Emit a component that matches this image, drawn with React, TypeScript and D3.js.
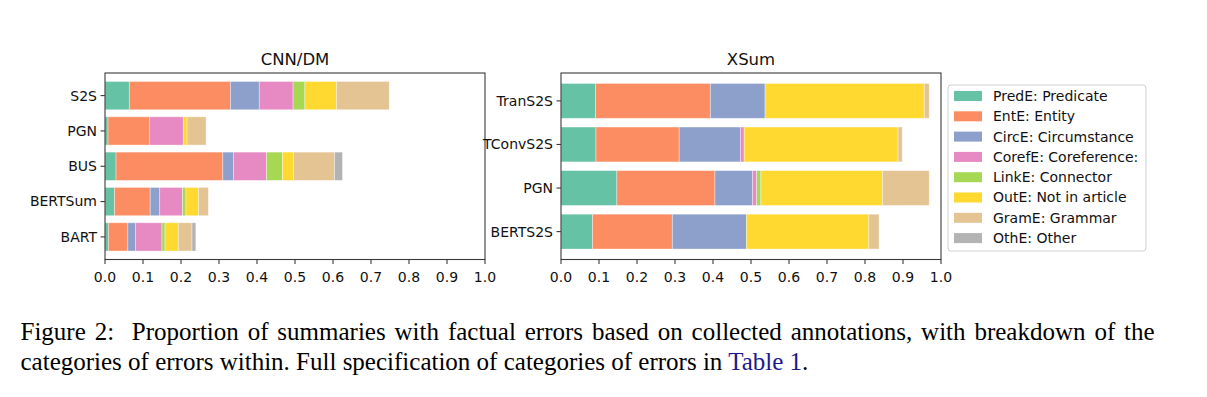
import React, { useEffect, useRef } from "react";
import * as d3 from "d3";

// error categories, in stacking order
const errorTypes = [
  "PredE: Predicate",
  "EntE: Entity",
  "CircE: Circumstance",
  "CorefE: Coreference:",
  "LinkE: Connector",
  "OutE: Not in article",
  "GramE: Grammar",
  "OthE: Other",
];
const errorColors = d3.schemeSet2;

const cnnModels = ["S2S", "PGN", "BUS", "BERTSum", "BART"];
// one row per model, one value per error type
const cnnShares = [
  [0.064, 0.266, 0.076, 0.089, 0.031, 0.083, 0.139, 0],
  [0.008, 0.109, 0, 0.089, 0, 0.01, 0.05, 0],
  [0.029, 0.281, 0.028, 0.087, 0.042, 0.029, 0.108, 0.021],
  [0.025, 0.094, 0.025, 0.06, 0.009, 0.033, 0.026, 0],
  [0.009, 0.051, 0.02, 0.07, 0.008, 0.035, 0.036, 0.01],
];

const xsumModels = ["TranS2S", "TConvS2S", "PGN", "BERTS2S"];
const xsumShares = [
  [0.091, 0.302, 0.144, 0, 0, 0.419, 0.013, 0],
  [0.092, 0.219, 0.161, 0.01, 0, 0.405, 0.011, 0],
  [0.147, 0.258, 0.099, 0.011, 0.011, 0.32, 0.123, 0],
  [0.083, 0.21, 0.195, 0, 0, 0.322, 0.027, 0],
];

const xTicks = [0, 0.1, 0.2, 0.3, 0.4, 0.5, 0.6, 0.7, 0.8, 0.9, 1.0];

const captionLine1 =
  "Figure 2:  Proportion of summaries with factual errors based on collected annotations, with breakdown of the";
const captionLine2 = "categories of errors within. Full specification of categories of errors in ";

const chartFont = "DejaVu Sans, sans-serif";
const axisColor = "#3a3a3a";
const tickSize = 14;

const Panel = ({ title, models, shares, left }) => {
  const top = 73;
  const bottom = 259.5;
  const width = 380;
  const x = d3.scaleLinear().domain([0, 1]).range([left, left + width]);
  const y = d3
    .scaleBand()
    .domain(models)
    .range([top, bottom])
    .paddingInner(0.2)
    .paddingOuter(0.24);
  const fmt = d3.format(".1f");

  return (
    <g fontFamily={chartFont}>
      {models.map((m, i) => {
        const ends = Array.from(d3.cumsum(shares[i]));
        return (
          <g key={m}>
            {shares[i].map((v, j) =>
              v > 0 ? (
                <rect
                  key={j}
                  x={x(ends[j] - v)}
                  y={y(m)}
                  width={x(ends[j]) - x(ends[j] - v)}
                  height={y.bandwidth()}
                  fill={errorColors[j]}
                  stroke="#fff"
                  strokeOpacity={0.45}
                  strokeWidth={0.8}
                />
              ) : null
            )}
          </g>
        );
      })}
      <rect
        x={left}
        y={top}
        width={width}
        height={bottom - top}
        fill="none"
        stroke={axisColor}
        strokeWidth={1.1}
      />
      {xTicks.map((t) => (
        <g key={t}>
          <line x1={x(t)} x2={x(t)} y1={bottom} y2={bottom + 4.5} stroke={axisColor} strokeWidth={1.1} />
          <text x={x(t)} y={bottom + 22} textAnchor="middle" fontSize={tickSize} fill="#111">
            {fmt(t)}
          </text>
        </g>
      ))}
      {models.map((m) => (
        <g key={m}>
          <line
            x1={left - 4.5}
            x2={left}
            y1={y(m) + y.bandwidth() / 2}
            y2={y(m) + y.bandwidth() / 2}
            stroke={axisColor}
            strokeWidth={1.1}
          />
          <text
            x={left - 8}
            y={y(m) + y.bandwidth() / 2}
            dy="0.35em"
            textAnchor="end"
            fontSize={tickSize}
            fill="#111"
          >
            {m}
          </text>
        </g>
      ))}
      <text x={left + width / 2} y={65} textAnchor="middle" fontSize={16.5} fill="#111">
        {title}
      </text>
    </g>
  );
};

const Legend = () => {
  const rowY = d3.scaleLinear().domain([0, 1]).range([96, 116.3]);
  return (
    <g fontFamily={chartFont}>
      <rect x={948} y={85} width={198} height={166} rx={3} fill="#fff" stroke="#d0d0d0" />
      {errorTypes.map((t, i) => (
        <g key={t}>
          <rect x={954} y={rowY(i) - 5} width={28} height={10} fill={errorColors[i]} />
          <text x={993} y={rowY(i)} dy="0.35em" fontSize={tickSize} fill="#111">
            {t}
          </text>
        </g>
      ))}
    </g>
  );
};

export default function App() {
  const line1Ref = useRef(null);

  useEffect(() => {
    // justify the first caption line like the LaTeX original
    const el = line1Ref.current;
    if (!el) return;
    el.setAttribute("word-spacing", "0");
    const natural = el.getComputedTextLength();
    const gaps = captionLine1.trim().split(/\s+/).length - 1;
    const target = 1152 - 20.5;
    el.setAttribute("word-spacing", String((target - natural) / gaps));
  }, []);

  return (
    <svg
      width={1207}
      height={397}
      style={{ position: "absolute", left: 0, top: 0, background: "#fff" }}
    >
      <rect width={1207} height={397} fill="#fff" />
      <Panel title="CNN/DM" models={cnnModels} shares={cnnShares} left={105} />
      <Panel title="XSum" models={xsumModels} shares={xsumShares} left={561} />
      <Legend />
      <g fontFamily="Liberation Serif, Times New Roman, serif" fontSize={25} fill="#000">
        <text ref={line1Ref} x={20.5} y={340} style={{ whiteSpace: "pre" }}>
          {captionLine1}
        </text>
        <text x={20.5} y={369.5}>
          {captionLine2}
          <tspan fill="#1a1a8f">Table 1</tspan>.
        </text>
      </g>
    </svg>
  );
}
